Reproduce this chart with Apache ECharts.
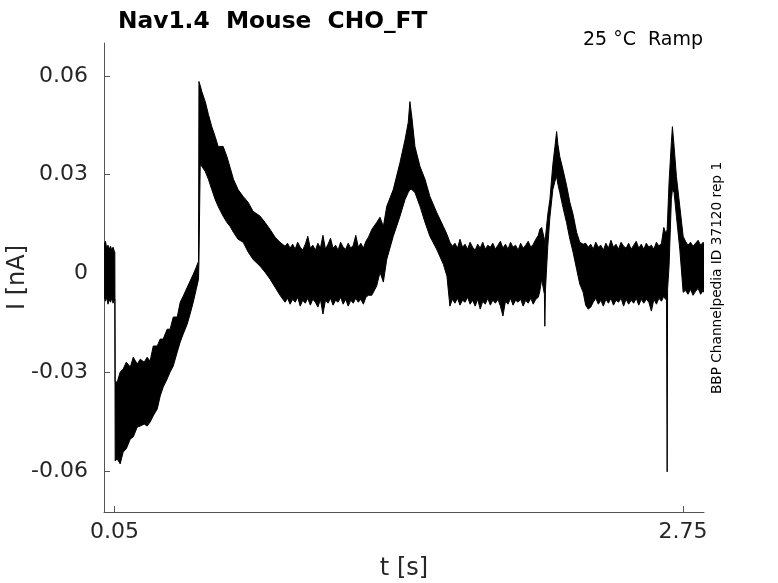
<!DOCTYPE html>
<html>
<head>
<meta charset="utf-8">
<script src="https://cdn.jsdelivr.net/npm/echarts@6/dist/echarts.min.js"></script>
<style>
  html, body { margin: 0; padding: 0; background: #fff; }
  #chart { width: 778px; height: 583px; }
</style>
</head>
<body>
<div id="chart"></div>
<script>
// Time samples (s) and the upper / lower edges of the overlaid current traces (nA)
const timeS = [
  // holding before the step
  0.001, 0.007, 0.013, 0.019, 0.025, 0.031, 0.037, 0.043, 0.049, 0.0515,
  // ramp segment
  0.053, 0.063, 0.077, 0.091, 0.106, 0.125, 0.139, 0.158, 0.172, 0.191,
  0.205, 0.219, 0.234, 0.253, 0.267, 0.281, 0.300, 0.314, 0.329, 0.348,
  0.362, 0.376, 0.395, 0.409, 0.424, 0.438, 0.449,
  // decay after jump
  0.451, 0.457, 0.465, 0.481, 0.496, 0.512, 0.528, 0.542, 0.566, 0.584,
  0.599, 0.615, 0.637, 0.661, 0.685, 0.708, 0.742, 0.765, 0.789, 0.813, 0.836,
  // plateau 1
  0.860, 0.872, 0.884, 0.896, 0.908, 0.920, 0.932, 0.944, 0.956, 0.968,
  0.980, 0.992, 1.004, 1.016, 1.028, 1.040, 1.052, 1.064, 1.076, 1.088,
  1.100, 1.112, 1.124, 1.136, 1.148, 1.160, 1.172, 1.184, 1.196, 1.208,
  1.220, 1.232, 1.244, 1.256,
  // peak 2
  1.272, 1.295, 1.311, 1.327, 1.343, 1.374, 1.406, 1.430, 1.445, 1.453,
  1.462, 1.477, 1.501, 1.525, 1.548, 1.580, 1.612, 1.629, 1.643,
  // plateau 2
  1.655, 1.667, 1.679, 1.691, 1.703, 1.715, 1.727, 1.739, 1.751, 1.763,
  1.775, 1.787, 1.799, 1.811, 1.823, 1.835, 1.847, 1.859, 1.871, 1.883,
  1.895, 1.907, 1.919, 1.931, 1.943, 1.955, 1.967, 1.979, 1.991, 2.003,
  2.015, 2.027, 2.039, 2.051, 2.063,
  // peak 3
  2.070, 2.079, 2.092, 2.094, 2.097, 2.108, 2.118, 2.132, 2.142, 2.150,
  2.156, 2.165, 2.180, 2.197, 2.213, 2.228, 2.245, 2.260, 2.276,
  // plateau 3
  2.288, 2.300, 2.312, 2.324, 2.336, 2.348, 2.360, 2.372, 2.384, 2.396,
  2.408, 2.420, 2.432, 2.444, 2.456, 2.468, 2.480, 2.492, 2.504, 2.516,
  2.528, 2.540, 2.552, 2.564, 2.576, 2.588, 2.600, 2.612, 2.624, 2.636, 2.648,
  // peak 4
  2.659, 2.667, 2.672, 2.675, 2.677, 2.684, 2.695, 2.700, 2.708, 2.719, 2.735, 2.751,
  // tail
  2.762, 2.774, 2.786, 2.798, 2.810, 2.822, 2.834, 2.846, 2.850
];
const upperNA = [
  0.0089, 0.0098, 0.0077, 0.0086, 0.0074, 0.0083, 0.0071, 0.0080, 0.0068, 0.0065,
  -0.0329, -0.0329, -0.0299, -0.0290, -0.0269, -0.0284, -0.0254, -0.0275, -0.0260, -0.0269,
  -0.0254, -0.0266, -0.0220, -0.0220, -0.0199, -0.0199, -0.0169, -0.0169, -0.0132, -0.0132,
  -0.0087, -0.0069, -0.0042, -0.0023, -0.0002, 0.0019, 0.0037,
  0.0583, 0.0571, 0.0552, 0.0522, 0.0483, 0.0446, 0.0416, 0.0386, 0.0386, 0.0355,
  0.0322, 0.0286, 0.0255, 0.0234, 0.0216, 0.0189, 0.0174, 0.0155, 0.0134, 0.0110, 0.0095,
  0.0083, 0.0092, 0.0077, 0.0089, 0.0074, 0.0095, 0.0080, 0.0071, 0.0089, 0.0113,
  0.0077, 0.0086, 0.0071, 0.0092, 0.0077, 0.0116, 0.0074, 0.0089, 0.0107, 0.0077,
  0.0086, 0.0071, 0.0095, 0.0080, 0.0074, 0.0092, 0.0077, 0.0086, 0.0116, 0.0080,
  0.0092, 0.0077, 0.0098, 0.0110,
  0.0134, 0.0155, 0.0171, 0.0143, 0.0204, 0.0255, 0.0337, 0.0407, 0.0458, 0.0522,
  0.0477, 0.0386, 0.0325, 0.0286, 0.0234, 0.0186, 0.0143, 0.0119, 0.0095,
  0.0083, 0.0092, 0.0077, 0.0104, 0.0080, 0.0089, 0.0074, 0.0095, 0.0080, 0.0071,
  0.0089, 0.0077, 0.0095, 0.0074, 0.0086, 0.0080, 0.0092, 0.0074, 0.0086, 0.0098,
  0.0077, 0.0089, 0.0074, 0.0095, 0.0080, 0.0086, 0.0071, 0.0092, 0.0077, 0.0086,
  0.0098, 0.0080, 0.0089, 0.0104, 0.0116,
  0.0134, 0.0140, 0.0104, 0.0074, 0.0110, 0.0180, 0.0225, 0.0331, 0.0386, 0.0431,
  0.0392, 0.0355, 0.0316, 0.0268, 0.0216, 0.0180, 0.0125, 0.0095, 0.0089,
  0.0092, 0.0080, 0.0089, 0.0074, 0.0095, 0.0080, 0.0086, 0.0071, 0.0092, 0.0077,
  0.0101, 0.0080, 0.0089, 0.0074, 0.0095, 0.0083, 0.0077, 0.0092, 0.0074, 0.0086,
  0.0098, 0.0077, 0.0089, 0.0074, 0.0092, 0.0080, 0.0086, 0.0074, 0.0095, 0.0083, 0.0092,
  0.0140, 0.0125, 0.0128, 0.0134, 0.0165, 0.0277, 0.0398, 0.0446, 0.0386, 0.0295, 0.0204, 0.0113,
  0.0098, 0.0086, 0.0095, 0.0083, 0.0092, 0.0101, 0.0086, 0.0095, 0.0089
];
const lowerNA = [
  -0.0069, -0.0084, -0.0072, -0.0093, -0.0078, -0.0087, -0.0075, -0.0090, -0.0081, -0.0078,
  -0.0569, -0.0563, -0.0578, -0.0542, -0.0532, -0.0502, -0.0496, -0.0466, -0.0463, -0.0457,
  -0.0463, -0.0451, -0.0432, -0.0411, -0.0372, -0.0345, -0.0320, -0.0299, -0.0281, -0.0238,
  -0.0208, -0.0184, -0.0154, -0.0123, -0.0087, -0.0048, -0.0017,
  0.0037, 0.0331, 0.0325, 0.0310, 0.0286, 0.0255, 0.0225, 0.0204, 0.0174, 0.0155,
  0.0143, 0.0125, 0.0104, 0.0095, 0.0065, 0.0043, 0.0022, 0.0004, -0.0017, -0.0042, -0.0066,
  -0.0087, -0.0075, -0.0093, -0.0078, -0.0087, -0.0072, -0.0099, -0.0081, -0.0090, -0.0075,
  -0.0096, -0.0078, -0.0087, -0.0102, -0.0078, -0.0123, -0.0081, -0.0090, -0.0075, -0.0096,
  -0.0081, -0.0087, -0.0072, -0.0093, -0.0078, -0.0099, -0.0081, -0.0090, -0.0075, -0.0087,
  -0.0078, -0.0093, -0.0072, -0.0066,
  -0.0066, -0.0038, 0.0004, -0.0026, 0.0043, 0.0113, 0.0174, 0.0225, 0.0246, 0.0255,
  0.0255, 0.0246, 0.0204, 0.0155, 0.0113, 0.0074, 0.0028, -0.0008, -0.0099,
  -0.0078, -0.0090, -0.0075, -0.0096, -0.0081, -0.0087, -0.0072, -0.0093, -0.0081, -0.0099,
  -0.0078, -0.0108, -0.0084, -0.0093, -0.0075, -0.0096, -0.0081, -0.0090, -0.0078, -0.0099,
  -0.0129, -0.0084, -0.0093, -0.0075, -0.0096, -0.0081, -0.0087, -0.0078, -0.0099, -0.0081,
  -0.0090, -0.0075, -0.0093, -0.0078, -0.0072,
  -0.0054, -0.0017, -0.0063, -0.0160, -0.0048, 0.0083, 0.0171, 0.0255, 0.0280, 0.0295,
  0.0271, 0.0246, 0.0201, 0.0155, 0.0104, 0.0065, 0.0013, -0.0032, -0.0057,
  -0.0096, -0.0108, -0.0102, -0.0087, -0.0075, -0.0093, -0.0081, -0.0099, -0.0078, -0.0090,
  -0.0075, -0.0096, -0.0081, -0.0087, -0.0075, -0.0099, -0.0078, -0.0093, -0.0081, -0.0090,
  -0.0075, -0.0096, -0.0078, -0.0090, -0.0078, -0.0087, -0.0114, -0.0078, -0.0093, -0.0075, -0.0084,
  -0.0069, -0.0078, -0.0078, -0.0602, -0.0048, 0.0022, 0.0225, 0.0255, 0.0246, 0.0174, 0.0074, -0.0057,
  -0.0051, -0.0063, -0.0048, -0.0066, -0.0054, -0.0045, -0.0063, -0.0051, -0.0057
];

const xTickValues = [0.05, 2.75];
const yTickValues = [-0.06, -0.03, 0, 0.03, 0.06];
const xRange = [0, 2.85];
const yRange = [-0.0724, 0.070];

const titleText = 'Nav1.4  Mouse  CHO_FT';
const conditionText = '25 °C  Ramp';
const sideText = 'BBP Channelpedia ID 37120 rep 1';

const FONT = 'DejaVu Sans';
const AX = '#262626';
const AXLINE = '#555';

const chart = echarts.init(document.getElementById('chart'), null, { renderer: 'canvas' });

function renderBand(params, api) {
  const n = Math.min(timeS.length, upperNA.length, lowerNA.length);
  const pts = [];
  for (let i = 0; i < n; i++) pts.push(api.coord([timeS[i], upperNA[i]]));
  for (let i = n - 1; i >= 0; i--) pts.push(api.coord([timeS[i], lowerNA[i]]));
  return {
    type: 'polygon',
    shape: { points: pts },
    style: { fill: '#000', stroke: '#000', lineWidth: 1, lineJoin: 'miter' }
  };
}

chart.setOption({
  animation: false,
  backgroundColor: '#fff',
  title: {
    text: titleText,
    left: 113, top: 5,
    textStyle: { fontFamily: FONT, fontWeight: 'bold', fontSize: 23.3, color: '#000' }
  },
  grid: { left: 104, right: 74, top: 43, bottom: 71, containLabel: false, outerBoundsMode: 'none' },
  xAxis: {
    type: 'value', min: xRange[0], max: xRange[1],
    name: 't [s]', nameLocation: 'middle', nameGap: 45, nameMoveOverlap: false,
    nameTextStyle: { fontFamily: FONT, fontSize: 24, color: AX },
    axisLine: { show: true, onZero: false, lineStyle: { color: AXLINE, width: 1 } },
    axisTick: { show: true, inside: true, length: 6, customValues: xTickValues, lineStyle: { color: AXLINE } },
    axisLabel: { customValues: xTickValues, fontFamily: FONT, fontSize: 22, color: AX, margin: 9,
                 formatter: v => String(v) },
    splitLine: { show: false }
  },
  yAxis: {
    type: 'value', min: yRange[0], max: yRange[1],
    name: 'I [nA]', nameLocation: 'middle', nameGap: 74, nameMoveOverlap: false,
    nameTextStyle: { fontFamily: FONT, fontSize: 24, color: AX },
    axisLine: { show: true, onZero: false, lineStyle: { color: AXLINE, width: 1 } },
    axisTick: { show: true, inside: true, length: 6, customValues: yTickValues, lineStyle: { color: AXLINE } },
    axisLabel: { customValues: yTickValues, fontFamily: FONT, fontSize: 22, color: AX, margin: 16,
                 formatter: v => String(v) },
    splitLine: { show: false }
  },
  graphic: [
    { type: 'text', right: 75, top: 31,
      style: { text: conditionText, fontFamily: FONT, fontSize: 19, fill: '#000' } },
    { type: 'text', x: 717, y: 278, rotation: Math.PI / 2,
      style: { text: sideText, fontFamily: FONT, fontSize: 13.7, fill: '#000',
               align: 'center', verticalAlign: 'middle' } }
  ],
  series: [{
    type: 'custom',
    coordinateSystem: 'cartesian2d',
    renderItem: renderBand,
    data: [[timeS[0], upperNA[0]]],
    silent: true,
    clip: true
  }]
});
</script>
</body>
</html>
